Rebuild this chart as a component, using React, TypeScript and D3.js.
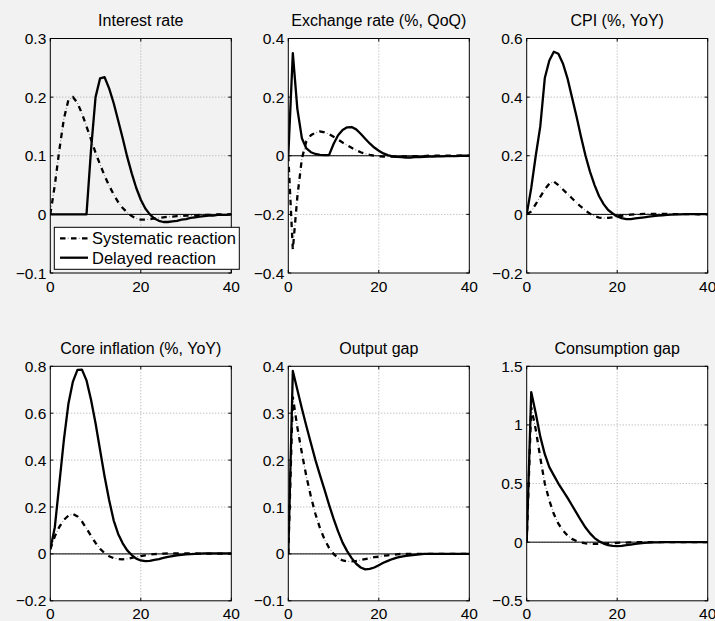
import React from 'react';
import * as d3 from 'd3';

// Quarters after the shock
const periods = d3.range(0, 41);

const panelTitles = [
  'Interest rate',
  'Exchange rate (%, QoQ)',
  'CPI (%, YoY)',
  'Core inflation (%, YoY)',
  'Output gap',
  'Consumption gap',
];

const legendLabels = ['Systematic reaction', 'Delayed reaction'];

const xTicks = [0, 20, 40];
const xTickLabels = ['0', '20', '40'];

// y-axis tick values and labels per panel
const yTicksInterest = [-0.1, 0, 0.1, 0.2, 0.3];
const yLabelsInterest = ['\u22120.1', '0', '0.1', '0.2', '0.3'];
const yTicksFx = [-0.4, -0.2, 0, 0.2, 0.4];
const yLabelsFx = ['\u22120.4', '\u22120.2', '0', '0.2', '0.4'];
const yTicksCpi = [-0.2, 0, 0.2, 0.4, 0.6];
const yLabelsCpi = ['\u22120.2', '0', '0.2', '0.4', '0.6'];
const yTicksCore = [-0.2, 0, 0.2, 0.4, 0.6, 0.8];
const yLabelsCore = ['\u22120.2', '0', '0.2', '0.4', '0.6', '0.8'];
const yTicksOutput = [-0.1, 0, 0.1, 0.2, 0.3, 0.4];
const yLabelsOutput = ['\u22120.1', '0', '0.1', '0.2', '0.3', '0.4'];
const yTicksCons = [-0.5, 0, 0.5, 1, 1.5];
const yLabelsCons = ['\u22120.5', '0', '0.5', '1', '1.5'];

// Series: systematic reaction (dash-dot) and delayed reaction (solid), t = 0..40
const interestSys = [0, 0.05, 0.11, 0.163, 0.195, 0.2, 0.19, 0.172, 0.15, 0.128, 0.105, 0.085, 0.066, 0.049, 0.034, 0.021, 0.011, 0.003, -0.003, -0.007, -0.009, -0.009, -0.008, -0.007, -0.006, -0.005, -0.004, -0.004, -0.003, -0.003, -0.002, -0.002, -0.002, -0.001, -0.001, -0.001, -0.001, 0, 0, 0, 0];
const interestDel = [0, 0, 0, 0, 0, 0, 0, 0, 0, 0.11, 0.2, 0.232, 0.234, 0.215, 0.19, 0.16, 0.13, 0.098, 0.07, 0.045, 0.025, 0.01, 0, -0.007, -0.011, -0.013, -0.013, -0.012, -0.011, -0.009, -0.008, -0.006, -0.005, -0.004, -0.003, -0.002, -0.002, -0.001, -0.001, -0.001, 0];

const fxSys = [0, -0.32, -0.14, -0.01, 0.05, 0.07, 0.079, 0.083, 0.08, 0.074, 0.065, 0.055, 0.045, 0.036, 0.027, 0.019, 0.012, 0.007, 0.003, 0, -0.002, -0.003, -0.003, -0.003, -0.003, -0.002, -0.002, -0.002, -0.001, -0.001, -0.001, 0, 0, 0, 0, 0, 0, 0, 0, 0, 0];
const fxDel = [0, 0.35, 0.16, 0.06, 0.025, 0.012, 0.006, 0.003, 0.002, 0.002, 0.04, 0.07, 0.088, 0.097, 0.098, 0.09, 0.075, 0.058, 0.042, 0.028, 0.017, 0.008, 0.002, -0.002, -0.004, -0.005, -0.006, -0.006, -0.005, -0.005, -0.004, -0.003, -0.003, -0.002, -0.002, -0.001, -0.001, -0.001, 0, 0, 0];

const cpiSys = [0, 0.01, 0.035, 0.06, 0.085, 0.105, 0.112, 0.1, 0.085, 0.07, 0.055, 0.04, 0.026, 0.013, 0.002, -0.006, -0.011, -0.013, -0.012, -0.01, -0.007, -0.005, -0.003, -0.001, 0, 0.001, 0.002, 0.002, 0.002, 0.002, 0.002, 0.002, 0.001, 0.001, 0.001, 0.001, 0.001, 0.001, 0, 0, 0];
const cpiDel = [0, 0.09, 0.2, 0.3, 0.465, 0.525, 0.555, 0.548, 0.515, 0.465, 0.4, 0.335, 0.265, 0.2, 0.145, 0.1, 0.062, 0.035, 0.015, 0.003, -0.007, -0.013, -0.016, -0.016, -0.014, -0.012, -0.01, -0.008, -0.006, -0.004, -0.003, -0.002, -0.001, 0, 0, 0.001, 0.001, 0.001, 0.001, 0.001, 0.001];

const coreSys = [0.02, 0.075, 0.115, 0.145, 0.163, 0.17, 0.16, 0.138, 0.108, 0.077, 0.047, 0.022, 0.003, -0.01, -0.018, -0.022, -0.023, -0.021, -0.017, -0.013, -0.009, -0.006, -0.003, -0.001, 0, 0.001, 0.002, 0.002, 0.002, 0.002, 0.002, 0.002, 0.002, 0.001, 0.001, 0.001, 0.001, 0.001, 0.001, 0.001, 0.001];
const coreDel = [0.02, 0.114, 0.3, 0.486, 0.64, 0.735, 0.785, 0.786, 0.74, 0.657, 0.557, 0.443, 0.33, 0.23, 0.143, 0.085, 0.045, 0.015, -0.005, -0.02, -0.028, -0.031, -0.03, -0.026, -0.022, -0.017, -0.013, -0.009, -0.006, -0.004, -0.002, -0.001, 0, 0.001, 0.002, 0.002, 0.002, 0.002, 0.002, 0.002, 0.002];

const outputSys = [0, 0.335, 0.27, 0.215, 0.165, 0.122, 0.085, 0.055, 0.031, 0.013, 0, -0.009, -0.014, -0.016, -0.016, -0.015, -0.013, -0.011, -0.009, -0.007, -0.006, -0.004, -0.003, -0.002, -0.001, 0, 0, 0, 0, 0, 0, 0, 0, 0, 0, 0, 0, 0, 0, 0, 0];
const outputDel = [0, 0.39, 0.35, 0.31, 0.272, 0.236, 0.2, 0.168, 0.137, 0.105, 0.075, 0.048, 0.024, 0.006, -0.009, -0.021, -0.029, -0.033, -0.032, -0.029, -0.024, -0.019, -0.015, -0.011, -0.008, -0.006, -0.004, -0.003, -0.002, -0.001, 0, 0, 0, 0, 0, 0, 0, 0, 0, 0, 0];

const consSys = [0, 1.15, 0.96, 0.72, 0.5, 0.356, 0.24, 0.157, 0.1, 0.057, 0.028, 0.01, -0.002, -0.01, -0.014, -0.015, -0.014, -0.012, -0.01, -0.008, -0.006, -0.004, -0.003, -0.002, -0.001, 0, 0, 0, 0, 0, 0, 0, 0, 0, 0, 0, 0, 0, 0, 0, 0];
const consDel = [0, 1.28, 1.1, 0.9, 0.75, 0.64, 0.57, 0.5, 0.44, 0.38, 0.315, 0.25, 0.185, 0.125, 0.075, 0.035, 0.008, -0.012, -0.025, -0.032, -0.034, -0.031, -0.026, -0.02, -0.014, -0.01, -0.006, -0.004, -0.002, -0.001, 0, 0, 0, 0, 0, 0, 0, 0, 0, 0, 0];

const panelTicks = [yTicksInterest, yTicksFx, yTicksCpi, yTicksCore, yTicksOutput, yTicksCons];
const panelLabels = [yLabelsInterest, yLabelsFx, yLabelsCpi, yLabelsCore, yLabelsOutput, yLabelsCons];
const panelSys = [interestSys, fxSys, cpiSys, coreSys, outputSys, consSys];
const panelDel = [interestDel, fxDel, cpiDel, coreDel, outputDel, consDel];

// Layout
const W = 715;
const H = 621;
const colLefts = [50.3, 288.3, 526.7];
const rowTops = [38.5, 366.3];
const plotW = 181;
const plotH = 234.5;
const FONT = "'Liberation Sans', Arial, Helvetica, sans-serif";
const FIG_BG = '#f2f2f2';
// dash-dot drawn as bold dashes plus faint thin dots between them
const DASH = '5.5,5.5';
const DOT = '0,7.75,1,2.25';

function DashDot({ d }: { d: string }) {
  return (
    <g>
      <path d={d} fill="none" stroke="#000" strokeWidth={2.3} strokeDasharray={DASH} />
      <path d={d} fill="none" stroke="#777" strokeWidth={1} strokeDasharray={DOT} />
    </g>
  );
}

function Panel({ idx }: { idx: number }) {
  const col = idx % 3;
  const row = Math.floor(idx / 3);
  const left = colLefts[col];
  const top = rowTops[row];
  const ticks = panelTicks[idx];
  const labels = panelLabels[idx];
  const x = d3.scaleLinear().domain([0, 40]).range([left, left + plotW]);
  const y = d3
    .scaleLinear()
    .domain([ticks[0], ticks[ticks.length - 1]])
    .range([top + plotH, top]);
  const line = d3
    .line<number>()
    .x((_, i) => x(periods[i]))
    .y((d) => y(d));
  const bottom = top + plotH;
  const right = left + plotW;
  const tl = 3;
  const clipId = `clip${idx}`;
  return (
    <g>
      <defs>
        <clipPath id={clipId}>
          <rect x={left} y={top} width={plotW} height={plotH} />
        </clipPath>
      </defs>
      <rect x={left} y={top} width={plotW} height={plotH} fill={idx === 0 ? FIG_BG : '#ffffff'} />
      {/* grid */}
      {xTicks
        .filter((t) => t > 0 && t < 40)
        .map((t) => (
          <line key={'gx' + t} x1={x(t)} x2={x(t)} y1={top} y2={bottom} stroke="#a8a8a8" strokeWidth={1} strokeDasharray="1,2" />
        ))}
      {ticks.slice(1, -1).map((t) => (
        <line key={'gy' + t} x1={left} x2={right} y1={y(t)} y2={y(t)} stroke="#a8a8a8" strokeWidth={1} strokeDasharray="1,2" />
      ))}
      {/* zero line */}
      <line x1={left} x2={right} y1={y(0)} y2={y(0)} stroke="#000" strokeWidth={1} />
      <g clipPath={`url(#${clipId})`}>
        <DashDot d={line(panelSys[idx]) || ''} />
        <path d={line(panelDel[idx]) || ''} fill="none" stroke="#000" strokeWidth={2.3} strokeLinejoin="round" />
      </g>
      {/* box */}
      <rect x={left} y={top} width={plotW} height={plotH} fill="none" stroke="#000" strokeWidth={1} />
      {/* ticks (inward, all four sides) */}
      {xTicks.map((t) => (
        <g key={'tx' + t}>
          <line x1={x(t)} x2={x(t)} y1={bottom} y2={bottom - tl} stroke="#000" strokeWidth={1} />
          <line x1={x(t)} x2={x(t)} y1={top} y2={top + tl} stroke="#000" strokeWidth={1} />
        </g>
      ))}
      {ticks.map((t) => (
        <g key={'ty' + t}>
          <line x1={left} x2={left + tl} y1={y(t)} y2={y(t)} stroke="#000" strokeWidth={1} />
          <line x1={right} x2={right - tl} y1={y(t)} y2={y(t)} stroke="#000" strokeWidth={1} />
        </g>
      ))}
      {/* labels */}
      {xTicks.map((t, i) => (
        <text key={'lx' + t} x={x(t)} y={bottom + 18.5} textAnchor="middle" fontSize={15.5} fontFamily={FONT} fill="#000">
          {xTickLabels[i]}
        </text>
      ))}
      {ticks.map((t, i) => (
        <text key={'ly' + t} x={left - 4} y={y(t) + 5.5} textAnchor="end" fontSize={15.5} fontFamily={FONT} fill="#000">
          {labels[i]}
        </text>
      ))}
      <text x={(left + right) / 2} y={top - 12.5} textAnchor="middle" fontSize={16} fontFamily={FONT} fill="#000">
        {panelTitles[idx]}
      </text>
    </g>
  );
}

function Legend() {
  const lx = 54.3;
  const ly = 227.3;
  const lw = 185;
  const lh = 42;
  const rows = [238.3, 257.7];
  return (
    <g>
      <rect x={lx} y={ly} width={lw} height={lh} fill="#fff" stroke="#000" strokeWidth={1} />
      {legendLabels.map((lab, i) => (
        <g key={lab}>
          {i === 0 ? (
            <DashDot d={`M60,${rows[i]}H88`} />
          ) : (
            <line x1={60} x2={88} y1={rows[i]} y2={rows[i]} stroke="#000" strokeWidth={2.3} />
          )}
          <text x={92} y={rows[i] + 5.8} fontSize={16.5} fontFamily={FONT} fill="#000">
            {lab}
          </text>
        </g>
      ))}
    </g>
  );
}

export default function App() {
  return (
    <svg
      width={W}
      height={H}
      viewBox={`0 0 ${W} ${H}`}
      style={{ position: 'fixed', left: 0, top: 0, display: 'block' }}
    >
      <rect x={0} y={0} width={W} height={H} fill={FIG_BG} />
      {d3.range(6).map((i) => (
        <Panel key={i} idx={i} />
      ))}
      <Legend />
    </svg>
  );
}
